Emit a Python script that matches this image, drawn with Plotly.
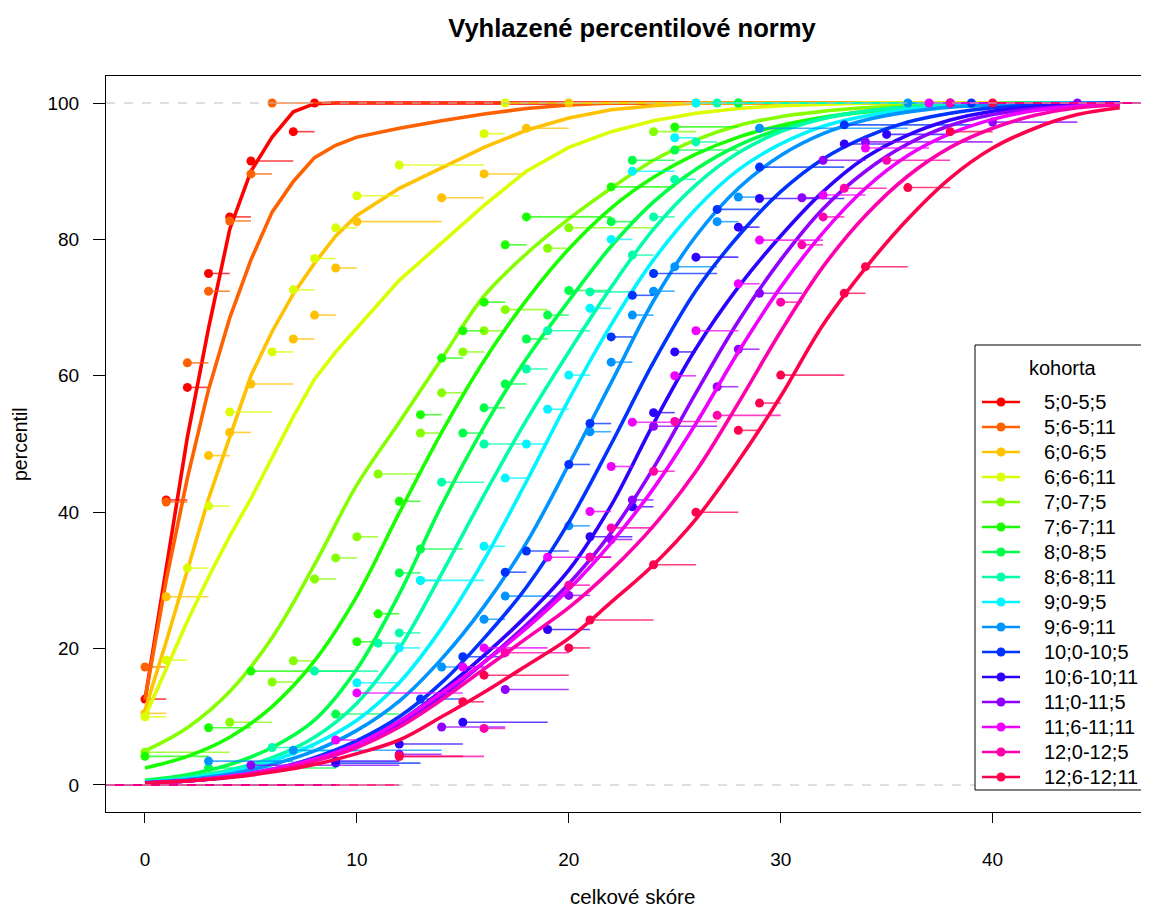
import plotly.graph_objects as go

# ---------------- data ----------------
cohorts = ["5;0-5;5", "5;6-5;11", "6;0-6;5", "6;6-6;11", "7;0-7;5", "7;6-7;11",
           "8;0-8;5", "8;6-8;11", "9;0-9;5", "9;6-9;11", "10;0-10;5", "10;6-10;11",
           "11;0-11;5", "11;6-11;11", "12;0-12;5", "12;6-12;11"]
colors = ["#FF0000", "#FF6100", "#FFC200", "#DBFF00", "#85FF00", "#1AFF00",
          "#00FF47", "#00FFA8", "#00F5FF", "#0094FF", "#0033FF", "#2E00FF",
          "#8F00FF", "#F000FF", "#FF00AD", "#FF004D"]

# smoothed curves (fine grid for the youngest cohorts)
grid_fine = [0, 1, 2, 3, 4, 5, 6, 7, 8, 9, 10, 12, 14, 16, 18, 20, 22, 24, 26, 28, 30,
             32, 34, 36, 38, 40, 42, 44, 46]
curve_5_0 = [12.5, 32, 51, 67, 81.5, 90, 95, 98.7, 99.9, 100, 100, 100, 100, 100, 100, 100,
             100, 100, 100, 100, 100, 100, 100, 100, 100, 100, 100, 100, 100]
curve_5_6 = [12.5, 30, 45, 58, 68.5, 77, 84, 88.5, 92, 93.8, 95, 96.3, 97.4, 98.4, 99.2, 99.7,
             100, 100, 100, 100, 100, 100, 100, 100, 100, 100, 100, 100, 100]
curve_6_0 = [11, 21, 31.5, 42, 51, 60, 66.5, 72, 76.5, 80.5, 83.5, 87.5, 90.5, 93.5, 96, 97.8,
             99, 99.6, 100, 100, 100, 100, 100, 100, 100, 100, 100, 100, 100]
curve_6_6 = [10, 17, 24, 30.5, 36.5, 42, 48, 54, 59.5, 63.5, 67, 74, 79.5, 85, 90, 93.5,
             95.8, 97.4, 98.5, 99.2, 99.6, 99.8, 100, 100, 100, 100, 100, 100, 100]

grid = [0, 2, 4, 6, 8, 10, 12, 14, 16, 18, 20, 22, 24, 26, 28, 30, 32, 34, 36, 38, 40, 42, 44, 46]
curve_7_0 = [5, 8.4, 13.7, 21.6, 32.3, 44, 53.2, 62.5, 71.7, 77.9, 83, 87.5, 91.6, 94.6, 96.7,
             98.0, 98.8, 99.3, 99.6, 99.8, 99.9, 100, 100, 100]
curve_7_6 = [2.5, 4.2, 7, 11.5, 18.2, 27.7, 39.9, 51.7, 62.2, 71.1, 78.6, 84.6, 89.1, 92.5, 95,
             96.7, 97.9, 98.7, 99.2, 99.5, 99.7, 99.9, 100, 100]
curve_8_0 = [0.7, 1.5, 3, 5.5, 9.5, 17, 28, 41, 52.5, 62.5, 71, 79, 85.5, 90.3, 93.8, 96.2,
             97.8, 98.8, 99.4, 99.7, 99.9, 100, 100, 100]
curve_8_6 = [0.5, 1.1, 2.2, 4, 7, 12, 20, 31, 42.5, 53.5, 63.5, 73, 81.5, 88, 92.7, 95.8,
             97.7, 98.8, 99.4, 99.7, 99.9, 100, 100, 100]
curve_9_0 = [0.4, 0.9, 1.9, 3.5, 6, 9.5, 15, 23, 33, 44.5, 56.5, 67.5, 77, 84.5, 90.2, 94,
             96.6, 98.1, 99, 99.5, 99.8, 99.9, 100, 100]
curve_9_6 = [0.4, 0.8, 1.6, 3, 5, 8, 12.3, 18.5, 26.2, 35.5, 47, 59, 71, 80.5, 87.5, 92.3,
             95.5, 97.5, 98.7, 99.4, 99.7, 99.9, 100, 100]
curve_10_0 = [0.3, 0.6, 1.2, 2.3, 4, 6.5, 10, 15, 21.5, 29, 38.5, 50, 62, 72.5, 80.5, 87,
              91.8, 95, 97.2, 98.5, 99.3, 99.7, 99.9, 100]
curve_10_6 = [0.3, 0.6, 1.2, 2.2, 3.7, 6, 9.3, 13.8, 19, 24.8, 31.5, 41, 53, 64, 73, 80.5,
              87, 92, 95.3, 97.5, 98.8, 99.4, 99.8, 100]
curve_11_0 = [0.3, 0.6, 1.2, 2.2, 3.6, 5.8, 9, 13, 18, 23.5, 29.5, 37, 46.5, 57.5, 68, 77,
              84.5, 90, 94, 96.7, 98.3, 99.2, 99.6, 99.9]
curve_11_6 = [0.3, 0.6, 1.3, 2.3, 3.8, 6, 9.3, 13.5, 18, 23, 28.7, 35.5, 43.5, 53, 63.5, 73,
              81, 87.5, 92.3, 95.5, 97.6, 98.9, 99.5, 99.8]
curve_12_0 = [0.3, 0.6, 1.2, 2.1, 3.5, 5.5, 8.5, 12.5, 17, 21.5, 26, 31.5, 38, 46, 56, 66.5,
              76, 83.5, 89.3, 93.5, 96.3, 98.2, 99.3, 99.7]
curve_12_6 = [0.3, 0.6, 1.1, 1.9, 3, 4.6, 6.6, 10, 13.6, 17.5, 21.5, 26.8, 32.3, 39, 47.5, 57,
              67.5, 75.8, 83, 89, 93.4, 96.3, 98.3, 99.3]

curves = [(grid_fine, curve_5_0), (grid_fine, curve_5_6), (grid_fine, curve_6_0), (grid_fine, curve_6_6),
          (grid, curve_7_0), (grid, curve_7_6), (grid, curve_8_0), (grid, curve_8_6),
          (grid, curve_9_0), (grid, curve_9_6), (grid, curve_10_0), (grid, curve_10_6),
          (grid, curve_11_0), (grid, curve_11_6), (grid, curve_12_0), (grid, curve_12_6)]

# observed (raw) percentiles: score -> percentile
obs_x_5_0 = [0, 1, 2, 3, 4, 5, 7, 8]
obs_y_5_0 = [12.6, 41.8, 58.3, 75.0, 83.3, 91.5, 95.8, 100]
obs_x_5_6 = [0, 1, 2, 3, 4, 5, 6]
obs_y_5_6 = [17.3, 41.5, 61.9, 72.4, 82.7, 89.6, 100]
obs_x_6_0 = [0, 1, 3, 4, 5, 7, 8, 9, 10, 14, 16, 18, 20]
obs_y_6_0 = [10.5, 27.6, 48.3, 51.7, 58.8, 65.4, 68.9, 75.8, 82.6, 86.1, 89.6, 96.3, 100]
obs_x_6_6 = [0, 1, 2, 3, 4, 6, 7, 8, 9, 10, 12, 16, 17]
obs_y_6_6 = [10.0, 18.3, 31.8, 40.9, 54.7, 63.5, 72.6, 77.2, 81.7, 86.4, 90.9, 95.5, 100]
obs_x_7_0 = [0, 4, 6, 7, 8, 9, 10, 11, 13, 14, 15, 16, 17, 19, 20, 24, 26]
obs_y_7_0 = [4.8, 9.2, 15.1, 18.2, 30.2, 33.3, 36.4, 45.6, 51.6, 57.5, 63.5, 66.6, 69.7, 78.7,
             81.7, 95.8, 100]
obs_x_7_6 = [0, 3, 5, 10, 11, 12, 13, 14, 15, 16, 17, 18, 22, 25, 28]
obs_y_7_6 = [4.2, 8.4, 16.7, 21.0, 25.1, 41.6, 54.3, 62.6, 66.6, 70.8, 79.2, 83.3, 87.7, 96.5, 100]
obs_x_8_0 = [3, 9, 12, 13, 15, 16, 17, 18, 19, 20, 22, 23, 25, 28]
obs_y_8_0 = [2.5, 10.4, 31.1, 34.6, 51.6, 55.3, 58.8, 65.4, 68.9, 72.5, 82.6, 91.6, 93.1, 100]
obs_x_8_6 = [6, 8, 11, 12, 13, 14, 16, 18, 19, 21, 23, 24, 25, 26, 27]
obs_y_8_6 = [5.5, 16.7, 20.8, 22.3, 30.0, 44.4, 50.0, 61.0, 66.6, 72.3, 77.7, 83.3, 88.8, 94.3, 100]
obs_x_9_0 = [7, 10, 12, 13, 16, 17, 18, 19, 20, 21, 22, 23, 25, 26]
obs_y_9_0 = [5.0, 15.0, 20.1, 30.0, 35.0, 45.0, 50.0, 55.1, 60.1, 69.9, 80.0, 90.0, 94.9, 100]
obs_x_9_6 = [3, 7, 14, 16, 17, 20, 21, 22, 23, 24, 25, 27, 28, 29, 36]
obs_y_9_6 = [3.5, 5.1, 17.3, 24.3, 27.7, 38.0, 51.8, 62.0, 68.9, 72.4, 76.0, 82.6, 86.2, 96.3, 100]
obs_x_10_0 = [9, 13, 15, 17, 18, 20, 21, 22, 23, 24, 27, 29, 33, 39]
obs_y_10_0 = [3.2, 12.6, 18.8, 31.2, 34.3, 47.0, 53.0, 65.7, 71.8, 75.0, 84.4, 90.6, 96.8, 100]
obs_x_10_6 = [9, 12, 15, 19, 21, 23, 24, 25, 26, 28, 29, 33, 35, 38]
obs_y_10_6 = [3.5, 6.0, 9.2, 22.8, 36.4, 40.8, 54.6, 63.5, 77.4, 81.8, 86.0, 94.0, 95.4, 100]
obs_x_11_0 = [5, 12, 14, 17, 20, 21, 22, 23, 24, 27, 28, 29, 31, 32, 34, 40, 44]
obs_y_11_0 = [2.9, 4.5, 8.5, 14.0, 27.8, 33.4, 36.0, 41.8, 52.6, 58.4, 63.9, 72.1, 86.1, 91.6,
              94.3, 97.2, 100]
obs_x_11_6 = [9, 10, 15, 16, 19, 21, 22, 23, 25, 26, 28, 29, 32, 34, 37]
obs_y_11_6 = [6.6, 13.5, 17.3, 20.1, 33.4, 40.1, 46.7, 53.2, 60.0, 66.6, 73.5, 79.9, 86.5, 93.4, 100]
obs_x_12_0 = [12, 16, 17, 20, 21, 22, 24, 25, 27, 30, 31, 32, 33, 35, 38]
obs_y_12_0 = [4.2, 8.3, 19.4, 29.3, 33.4, 37.7, 46.0, 53.3, 54.2, 70.8, 79.2, 83.3, 87.5, 91.6, 100]
obs_x_12_6 = [12, 15, 16, 20, 21, 24, 26, 28, 29, 30, 33, 34, 36, 38, 40]
obs_y_12_6 = [4.2, 12.2, 16.1, 20.1, 24.2, 32.3, 40.0, 52.0, 56.0, 60.1, 72.1, 76.0, 87.6, 95.8, 100]

observed = [(obs_x_5_0, obs_y_5_0), (obs_x_5_6, obs_y_5_6), (obs_x_6_0, obs_y_6_0),
            (obs_x_6_6, obs_y_6_6), (obs_x_7_0, obs_y_7_0), (obs_x_7_6, obs_y_7_6),
            (obs_x_8_0, obs_y_8_0), (obs_x_8_6, obs_y_8_6), (obs_x_9_0, obs_y_9_0),
            (obs_x_9_6, obs_y_9_6), (obs_x_10_0, obs_y_10_0), (obs_x_10_6, obs_y_10_6),
            (obs_x_11_0, obs_y_11_0), (obs_x_11_6, obs_y_11_6), (obs_x_12_0, obs_y_12_0),
            (obs_x_12_6, obs_y_12_6)]

x_ticks = [0, 10, 20, 30, 40]
y_ticks = [0, 20, 40, 60, 80, 100]
X_RANGE = [-1.84, 47.38]
Y_RANGE = [-3.96, 103.96]

# page body has an 8px margin; the figure is sized to fill the rest of the window
W, H = 1141, 902
ML, MT, MB, MR = 98, 68, 98, 0
PW, PH = W - ML - MR, H - MT - MB
OFF_X, OFF_Y = 8 + ML, 8 + MT   # screen position of the plot area's top-left corner


def rgba(hex_color, a):
    h = hex_color.lstrip("#")
    return "rgba(%d,%d,%d,%.2f)" % (int(h[0:2], 16), int(h[2:4], 16), int(h[4:6], 16), a)


fig = go.Figure()

for name, col, (cx, cy), (ox, oy) in zip(cohorts, colors, curves, observed):
    # step-function segments (ECDF style)
    sx, sy = [X_RANGE[0], ox[0], None], [0, 0, None]
    for i in range(len(ox)):
        nxt = ox[i + 1] if i + 1 < len(ox) else X_RANGE[1]
        sx += [ox[i], nxt, None]
        sy += [oy[i], oy[i], None]
    fig.add_trace(go.Scatter(x=sx, y=sy, mode="lines", line=dict(color=rgba(col, 0.75), width=1.6),
                             showlegend=False, hoverinfo="skip"))
    fig.add_trace(go.Scatter(x=ox, y=oy, mode="markers", marker=dict(color=col, size=9),
                             showlegend=False, name=name))
    shape = "linear" if cx is grid_fine else "spline"
    fig.add_trace(go.Scatter(x=cx, y=cy, mode="lines", line=dict(color=col, width=3.6, shape=shape),
                             showlegend=False, name=name))

# helper overlay axes measured in pixels of the plot area (for the legend box)
fig.add_trace(go.Scatter(x=[None], y=[None], xaxis="x2", yaxis="y2", showlegend=False))

fig.add_shape(type="line", xref="paper", x0=0, x1=1, yref="y", y0=100, y1=100,
              line=dict(color="#BEBEBE", width=1.2, dash="dash"), layer="above")
fig.add_shape(type="line", xref="paper", x0=0, x1=1, yref="y", y0=0, y1=0,
              line=dict(color="#BEBEBE", width=1.2, dash="dash"), layer="above")

FONT = "Liberation Sans, Arial, sans-serif"
axis_font = dict(family=FONT, size=19, color="#000000")
leg_font = dict(family=FONT, size=20, color="#000000")

# ---- legend (drawn as a box like R's legend()) ----
LEG_L, LEG_T, LEG_B, LEG_R = 975, 345, 790, 1165
fig.add_shape(type="rect", xref="x2", yref="y2", x0=LEG_L - OFF_X, x1=LEG_R - OFF_X,
              y0=LEG_T - OFF_Y, y1=LEG_B - OFF_Y, fillcolor="white",
              line=dict(color="black", width=1), layer="above")
fig.add_annotation(text="kohorta", xref="x2", yref="y2", x=1063 - OFF_X, y=368 - OFF_Y,
                   xanchor="center", yanchor="middle", showarrow=False, font=leg_font)
for i, (name, col) in enumerate(zip(cohorts, colors)):
    yy = 402 + 25 * i - OFF_Y
    fig.add_shape(type="line", xref="x2", yref="y2", x0=982 - OFF_X, x1=1020 - OFF_X, y0=yy, y1=yy,
                  line=dict(color=col, width=2.6), layer="above")
    fig.add_shape(type="circle", xref="x2", yref="y2", x0=1001 - OFF_X - 4.5, x1=1001 - OFF_X + 4.5,
                  y0=yy - 4.5, y1=yy + 4.5, fillcolor=col, line=dict(color=col, width=0),
                  layer="above")
    fig.add_annotation(text=name, xref="x2", yref="y2", x=1042 - OFF_X, y=yy,
                       xanchor="left", yanchor="middle", showarrow=False, font=leg_font)

# axis titles as annotations (positions in reference pixels, shifted by body margin)
fig.add_annotation(text="celkové skóre", xref="paper", yref="paper",
                   x=(632 - OFF_X) / PW, y=1 - (896 - OFF_Y) / PH,
                   xanchor="center", yanchor="middle", showarrow=False,
                   font=dict(family=FONT, size=20.5, color="#000000"))
fig.add_annotation(text="percentil", xref="paper", yref="paper",
                   x=(20 - OFF_X) / PW, y=1 - (444 - OFF_Y) / PH, textangle=-90,
                   xanchor="center", yanchor="middle", showarrow=False,
                   font=dict(family=FONT, size=19.5, color="#000000"))

fig.update_layout(
    width=W, height=H,
    margin=dict(l=ML, r=MR, t=MT, b=MB, autoexpand=False),
    paper_bgcolor="white", plot_bgcolor="white",
    font=dict(family=FONT, size=19, color="#000000"),
    title=dict(text="<b>Vyhlazené percentilové normy</b>", x=(632 - 8) / W, xanchor="center",
               y=1 - (28 - 8) / H, yanchor="middle", font=dict(size=25.6)),
    xaxis=dict(range=X_RANGE, tickvals=x_ticks, showgrid=False, zeroline=False,
               showline=True, mirror=True, linecolor="black", linewidth=1,
               ticks="outside", ticklen=10, tickcolor="black", tickfont=axis_font,
               ticklabelstandoff=20, automargin=False),
    yaxis=dict(range=Y_RANGE, tickvals=y_ticks, showgrid=False, zeroline=False,
               showline=True, mirror=True, linecolor="black", linewidth=1,
               ticks="outside", ticklen=12, tickcolor="black", tickfont=axis_font,
               ticklabelstandoff=10, automargin=False),
    xaxis2=dict(overlaying="x", anchor="y2", range=[0, PW], visible=False, fixedrange=True),
    yaxis2=dict(overlaying="y", anchor="x2", range=[PH, 0], visible=False, fixedrange=True),
    showlegend=False,
)

fig.write_html("out.html")
